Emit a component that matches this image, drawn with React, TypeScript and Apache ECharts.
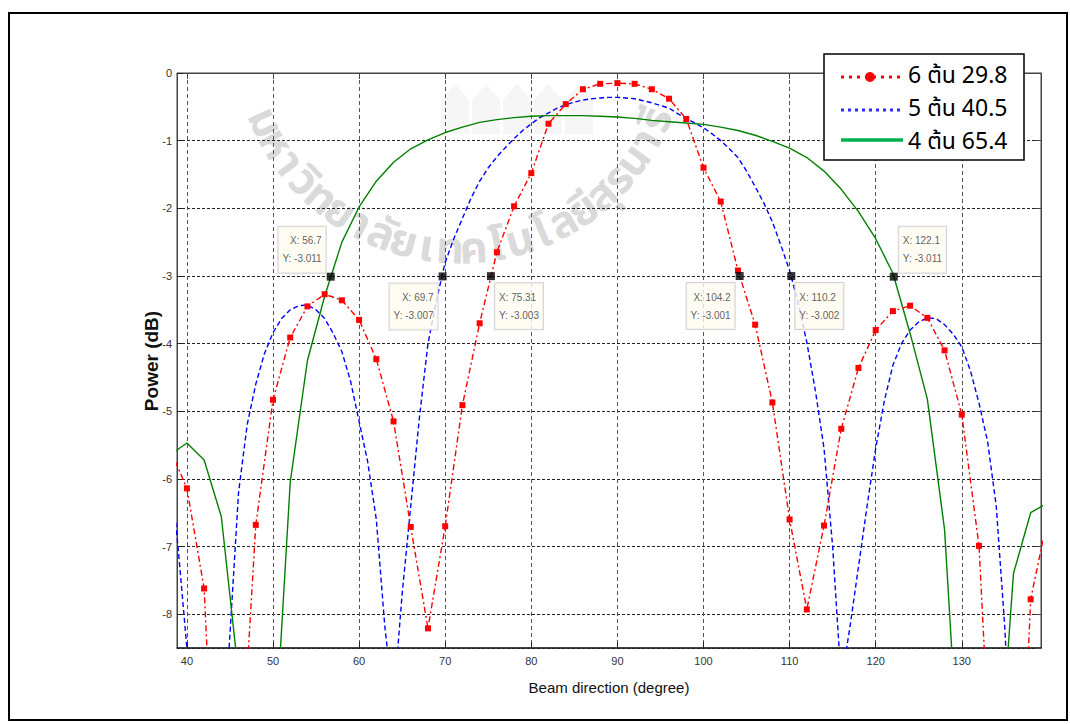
import React, { useEffect, useRef } from "react";
import * as echarts from "echarts";

// ---------- data ----------
const redX = [38, 40, 42, 44, 46, 48, 50, 52, 54, 56, 58, 60, 62, 64, 66, 68, 70, 72, 74, 76, 78, 80, 82, 84, 86, 88, 90, 92, 94, 96, 98, 100, 102, 104, 106, 108, 110, 112, 114, 116, 118, 120, 122, 124, 126, 128, 130, 132, 134, 136, 138, 140];
const redY = [-5.55, -6.14, -7.62, -13, -11, -6.68, -4.83, -3.91, -3.45, -3.27, -3.36, -3.65, -4.23, -5.15, -6.71, -8.21, -6.7, -4.91, -3.7, -2.65, -1.97, -1.48, -0.75, -0.46, -0.24, -0.16, -0.15, -0.16, -0.24, -0.38, -0.68, -1.4, -1.9, -2.92, -3.72, -4.87, -6.6, -7.93, -6.69, -5.26, -4.36, -3.8, -3.52, -3.44, -3.62, -4.1, -5.05, -6.99, -12, -13.6, -7.78, -6.56];

const blueX = [38, 39, 40, 41, 42, 43, 44, 45, 46, 47, 48, 49, 50, 51, 52, 53, 54, 55, 56, 57, 58, 59, 60, 61, 62, 63, 64, 65, 66, 67, 68, 69, 70, 71, 72, 73, 74, 75, 76, 77, 78, 79, 80, 81, 82, 83, 84, 85, 86, 87, 88, 89, 90, 91, 92, 93, 94, 95, 96, 97, 98, 99, 100, 101, 102, 103, 104, 105, 106, 107, 108, 109, 110, 111, 112, 113, 114, 115, 116, 117, 118, 119, 120, 121, 122, 123, 124, 125, 126, 127, 128, 129, 130, 131, 132, 133, 134, 135, 136, 137, 138, 139, 140];
const blueY = [-5.7, -7.05, -8.5, -10.2, -11.5, -11.8, -10.4, -8.3, -6.2, -5.2, -4.6, -4.15, -3.84, -3.63, -3.5, -3.44, -3.43, -3.5, -3.63, -3.85, -4.12, -4.55, -5.15, -5.75, -6.6, -8.2, -9.3, -7.7, -6.4, -5.1, -4.0, -3.35, -2.8, -2.45, -2.15, -1.85, -1.6, -1.4, -1.24, -1.1, -0.97, -0.85, -0.75, -0.66, -0.59, -0.52, -0.47, -0.43, -0.4, -0.38, -0.37, -0.36, -0.36, -0.37, -0.38, -0.41, -0.44, -0.48, -0.52, -0.6, -0.67, -0.74, -0.81, -0.9, -1.0, -1.12, -1.25, -1.45, -1.68, -1.92, -2.2, -2.55, -2.92, -3.4, -3.98, -4.7, -5.55, -7.0, -9.0, -8.2, -7.3, -6.4, -5.55, -4.85, -4.32, -4.0, -3.8, -3.68, -3.62, -3.63, -3.72, -3.86, -4.05, -4.4, -4.88, -5.45, -6.4, -8.2, -11, -12.5, -11.5, -10.5, -9.8];

const greenX = [38, 40, 42, 44, 46, 48, 50, 52, 54, 56, 58, 60, 62, 64, 66, 68, 70, 72, 74, 76, 78, 80, 82, 84, 86, 88, 90, 92, 94, 96, 98, 100, 102, 104, 106, 108, 110, 112, 114, 116, 118, 120, 122, 124, 126, 128, 130, 132, 134, 136, 138, 140];
const greenY = [-5.65, -5.47, -5.72, -6.56, -8.9, -15, -10.4, -6.05, -4.25, -3.3, -2.5, -1.98, -1.6, -1.32, -1.12, -0.99, -0.88, -0.8, -0.73, -0.69, -0.66, -0.64, -0.63, -0.63, -0.63, -0.64, -0.65, -0.67, -0.7, -0.72, -0.74, -0.76, -0.8, -0.85, -0.92, -1.01, -1.11, -1.25, -1.45, -1.72, -2.05, -2.45, -2.96, -3.85, -4.82, -6.75, -11, -15, -11, -7.4, -6.5, -6.35];

const tipX = [56.7, 69.7, 75.31, 104.2, 110.2, 122.1];
const tipY = [-3.011, -3.007, -3.003, -3.001, -3.002, -3.011];
const tipSide = ["tl", "bl", "br", "bl", "br", "tr"];

const legendNames = ["6 ต้น 29.8", "5 ต้น 40.5", "4 ต้น 65.4"];
const xName = "Beam direction (degree)";
const yName = "Power (dB)";
const watermarkClusters = ["ม", "ห", "า", "วิ", "ท", "ย", "า", "ลั", "ย", "เ", "ท", "ค", "โ", "น", "โ", "ล", "ยี", "สุ", "ร", "น", "า", "รี"];

const X_MIN = 38.85;
const X_MAX = 139.2;
const Y_MIN = -8.5;
const Y_MAX = 0;

const THAI_FONT = "'Noto Sans Thai', 'Noto Sans', 'DejaVu Sans', sans-serif";
const AX_FONT = "'Liberation Sans', Arial, sans-serif";

function pairs(xs: number[], ys: number[]) {
  return xs.map((x, i) => [x, ys[i]]);
}

function tipLabel(side: string) {
  switch (side) {
    case "tl":
      return { position: [-1, 0], align: "right", verticalAlign: "bottom" };
    case "bl":
      return { position: [-1, 11], align: "right", verticalAlign: "top" };
    case "br":
      return { position: [8, 11], align: "left", verticalAlign: "top" };
    default:
      return { position: [9, 0], align: "left", verticalAlign: "bottom" };
  }
}

function buildWatermark() {
  const cx = 460, cy = 36, r = 214;
  const a0 = 156, a1 = 23;
  const n = watermarkClusters.length;
  const els: any[] = watermarkClusters.map((ch, i) => {
    const deg = a0 + ((a1 - a0) * i) / (n - 1);
    const rad = (deg * Math.PI) / 180;
    return {
      type: "text",
      x: cx + r * Math.cos(rad),
      y: cy + r * Math.sin(rad),
      rotation: ((90 - deg) * Math.PI) / 180,
      silent: true,
      z: -10,
      style: {
        text: ch,
        fontSize: 44,
        fontWeight: "bold",
        fontFamily: THAI_FONT,
        fill: "rgba(150,150,150,0.36)",
        align: "center",
        verticalAlign: "middle",
      },
    };
  });
  // faint emblem shapes of the logo behind the plot
  for (let k = 0; k < 5; k++) {
    const x0 = 441 + 31 * k;
    els.push({
      type: "polygon",
      silent: true,
      z: -10,
      shape: {
        points: [
          [x0, 100],
          [x0 + 14, 84],
          [x0 + 28, 100],
          [x0 + 28, 134],
          [x0, 134],
        ],
      },
      style: { fill: "rgba(170,170,170,0.1)" },
    });
  }
  return els;
}

function buildLegend() {
  const rows = [77, 110, 140];
  const textRows = [75, 108, 141];
  const els: any[] = [
    {
      type: "rect",
      shape: { x: 824, y: 54, width: 200, height: 106 },
      style: { fill: "#ffffff", stroke: "#000", lineWidth: 1.5 },
      z: 100,
    },
    {
      type: "line",
      shape: { x1: 841, y1: rows[0], x2: 903, y2: rows[0] },
      style: { stroke: "#ff0000", lineWidth: 3, lineDash: [3, 5] },
      z: 101,
    },
    {
      type: "circle",
      shape: { cx: 870, cy: rows[0], r: 5 },
      style: { fill: "#ff0000" },
      z: 102,
    },
    {
      type: "line",
      shape: { x1: 841, y1: rows[1], x2: 903, y2: rows[1] },
      style: { stroke: "#2b2bff", lineWidth: 3, lineDash: [3, 4] },
      z: 101,
    },
    {
      type: "line",
      shape: { x1: 841, y1: rows[2], x2: 903, y2: rows[2] },
      style: { stroke: "#00b050", lineWidth: 3.5 },
      z: 101,
    },
  ];
  legendNames.forEach((t, i) => {
    els.push({
      type: "text",
      x: 908,
      y: textRows[i] + 1,
      z: 101,
      style: {
        text: t,
        fontSize: 23,
        lineHeight: 23,
        fontFamily: THAI_FONT,
        fill: "#000",
        align: "left",
        verticalAlign: "middle",
      },
    });
  });
  return els;
}

export default function App() {
  const ref = useRef<HTMLDivElement | null>(null);

  useEffect(() => {
    if (!ref.current) return;
    const chart = echarts.init(ref.current, undefined, { renderer: "svg" });

    const xLabelFmt = (v: number) => (Math.abs(v % 10) < 1e-9 ? String(v) : "");
    const yLabelFmt = (v: number) => (Math.abs(v - Math.round(v)) < 1e-9 ? String(Math.round(v)) : "");

    const option: any = {
      animation: false,
      backgroundColor: "#ffffff",
      grid: {
        left: 177,
        right: 29,
        top: 73,
        bottom: 76,
        show: true,
        borderColor: "#444",
        borderWidth: 1,
        backgroundColor: "transparent",
      },
      xAxis: [
        {
          type: "value",
          min: X_MIN,
          max: X_MAX,
          splitNumber: 10,
          position: "bottom",
          axisLine: { show: true, onZero: false, lineStyle: { color: "#222", width: 1.5 } },
          axisTick: { show: true, inside: true, length: 6, lineStyle: { color: "#222" } },
          axisLabel: {
            margin: 7,
            fontSize: 11,
            color: "#333",
            fontFamily: AX_FONT,
            formatter: xLabelFmt,
            showMinLabel: false,
            showMaxLabel: false,
          },
          splitLine: { show: true, lineStyle: { type: [4, 3], color: "#555", width: 1 } },
          name: xName,
          nameLocation: "middle",
          nameGap: 32,
          nameTextStyle: { fontSize: 15, color: "#111", fontFamily: AX_FONT },
        },
        {
          type: "value",
          min: X_MIN,
          max: X_MAX,
          splitNumber: 10,
          position: "top",
          axisLine: { show: true, onZero: false, lineStyle: { color: "#444", width: 1 } },
          axisTick: { show: true, inside: true, length: 6, lineStyle: { color: "#444" } },
          axisLabel: { show: false },
          splitLine: { show: false },
        },
      ],
      yAxis: [
        {
          type: "value",
          min: Y_MIN,
          max: Y_MAX,
          splitNumber: 9,
          position: "left",
          axisLine: { show: true, onZero: false, lineStyle: { color: "#444", width: 1 } },
          axisTick: { show: true, inside: true, length: 6, lineStyle: { color: "#222" } },
          axisLabel: {
            margin: 5,
            fontSize: 11,
            color: "#333",
            fontFamily: AX_FONT,
            formatter: yLabelFmt,
            showMinLabel: false,
          },
          splitLine: { show: true, lineStyle: { type: [3, 2], color: "#222", width: 1 } },
        },
        {
          type: "value",
          min: Y_MIN,
          max: Y_MAX,
          splitNumber: 9,
          position: "right",
          axisLine: { show: true, onZero: false, lineStyle: { color: "#444", width: 1 } },
          axisTick: { show: true, inside: true, length: 6, lineStyle: { color: "#444" } },
          axisLabel: { show: false },
          splitLine: { show: false },
        },
      ],
      graphic: [
        {
          type: "rect",
          shape: { x: 9, y: 13, width: 1058, height: 707 },
          style: { fill: "none", stroke: "#000", lineWidth: 2 },
          silent: true,
          z: 100,
        },
        {
          type: "text",
          x: 151,
          y: 361,
          rotation: Math.PI / 2,
          z: 50,
          style: {
            text: yName,
            fontSize: 19,
            fontWeight: "bold",
            fontFamily: AX_FONT,
            fill: "#111",
            align: "center",
            verticalAlign: "middle",
          },
        },
        ...buildWatermark(),
        ...buildLegend(),
      ],
      series: [
        {
          name: "5",
          type: "line",
          data: pairs(blueX, blueY),
          showSymbol: false,
          clip: true,
          lineStyle: { color: "#0000ff", width: 1.4, type: [5, 3] },
          z: 3,
        },
        {
          name: "4",
          type: "line",
          data: pairs(greenX, greenY),
          showSymbol: false,
          clip: true,
          lineStyle: { color: "#008000", width: 1.4, type: "solid" },
          z: 3,
        },
        {
          name: "6",
          type: "line",
          data: pairs(redX, redY),
          symbol: "rect",
          symbolSize: 6,
          showSymbol: true,
          clip: true,
          itemStyle: { color: "#ff0000" },
          lineStyle: { color: "#ff0000", width: 1.4, type: [6, 3, 2, 3] },
          z: 4,
        },
        {
          name: "tips",
          type: "scatter",
          symbol: "rect",
          symbolSize: 8,
          itemStyle: { color: "#000" },
          z: 10,
          data: tipX.map((x, i) => ({
            value: [x, tipY[i]],
            label: tipLabel(tipSide[i]),
          })),
          label: {
            show: true,
            formatter: (p: any) => `X: ${p.value[0]}\nY: ${p.value[1].toFixed(3)}`,
            fontSize: 10,
            color: "#333",
            fontFamily: AX_FONT,
            backgroundColor: "#fffcf0",
            borderColor: "#c8c8c8",
            borderWidth: 1,
            padding: [5, 4, 5, 4],
            lineHeight: 18,
          },
        },
      ],
    };

    chart.setOption(option);
    return () => {
      chart.dispose();
    };
  }, []);

  return (
    <div
      ref={ref}
      style={{ position: "fixed", left: 0, top: 0, width: 1070, height: 724, background: "#fff" }}
    />
  );
}
